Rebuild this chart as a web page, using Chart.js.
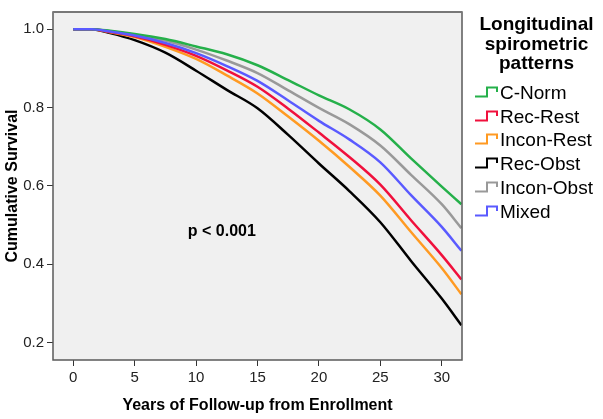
<!DOCTYPE html>
<html>
<head>
<meta charset="utf-8">
<script src="https://cdn.jsdelivr.net/npm/chart.js@4.4.1/dist/chart.umd.min.js"></script>
<style>
    html, body { margin: 0; padding: 0; background: #fff; }
    #wrap { position: relative; width: 603px; height: 419px; font-family: "Liberation Sans", Arial, sans-serif; }
    #survChart { position: absolute; left: 0; top: 0; }
    #legend { position: absolute; left: 470px; top: 0; width: 133px; color: #000; }
    #legend .ttl { position: absolute; left: 0; top: 14px; width: 133px; text-align: center; font-weight: bold; font-size: 19px; line-height: 19.5px; }
    #legend .row { position: absolute; left: 0; width: 133px; height: 24px; font-size: 19px; line-height: 24px; white-space: nowrap; }
    #legend .row svg { position: absolute; left: 4px; top: 5px; }
    #legend .row span { position: absolute; left: 30px; top: 0; }
</style>
</head>
<body>
<div id="wrap">
    <canvas id="survChart" width="603" height="419"></canvas>
    <div id="legend"></div>
</div>
<script>
// Kaplan-Meier curves
const years = [0, 1.5, 3, 5, 7.5, 10, 12.5, 15, 17.5, 20, 22.5, 25, 27.5, 30, 31.6];
const cNorm     = [1, 1, 0.996, 0.988, 0.975, 0.956, 0.936, 0.908, 0.870, 0.831, 0.795, 0.744, 0.670, 0.598, 0.553];
const recRest   = [1, 1, 0.993, 0.982, 0.960, 0.932, 0.895, 0.853, 0.797, 0.736, 0.673, 0.603, 0.512, 0.423, 0.361];
const inconRest = [1, 1, 0.992, 0.980, 0.955, 0.924, 0.882, 0.836, 0.777, 0.715, 0.648, 0.575, 0.482, 0.390, 0.323];
const recObst   = [1, 1, 0.990, 0.972, 0.940, 0.894, 0.845, 0.798, 0.730, 0.657, 0.586, 0.507, 0.408, 0.312, 0.244];
const inconObst = [1, 1, 0.995, 0.986, 0.971, 0.948, 0.920, 0.888, 0.844, 0.799, 0.757, 0.703, 0.628, 0.553, 0.492];
const mixed     = [1, 1, 0.994, 0.984, 0.965, 0.939, 0.906, 0.868, 0.818, 0.766, 0.718, 0.660, 0.576, 0.495, 0.434];

const seriesNames  = ['C-Norm', 'Rec-Rest', 'Incon-Rest', 'Rec-Obst', 'Incon-Obst', 'Mixed'];
const seriesColors = ['#25b04a', '#f0103c', '#ff9a22', '#000000', '#999999', '#5a5aff'];
const seriesData   = [cNorm, recRest, inconRest, recObst, inconObst, mixed];

const xTicks = [0, 5, 10, 15, 20, 25, 30];
const yTicks = [0.2, 0.4, 0.6, 0.8, 1.0];

const FONT = '"Liberation Sans", Arial, sans-serif';

// fond gris + cadre + texte p
const plotFrame = {
    id: 'plotFrame',
    beforeDraw(chart) {
        const { ctx, chartArea: a } = chart;
        ctx.save();
        ctx.fillStyle = '#f0f0f0';
        ctx.fillRect(a.left, a.top, a.right - a.left, a.bottom - a.top);
        ctx.restore();
    },
    afterDraw(chart) {
        const { ctx, chartArea: a, scales } = chart;
        ctx.save();
        ctx.strokeStyle = '#5a5a5a';
        ctx.lineWidth = 1.5;
        ctx.strokeRect(a.left, a.top, a.right - a.left, a.bottom - a.top);
        // bord haut un peu plus épais, comme SPSS
        ctx.strokeStyle = '#777';
        ctx.lineWidth = 2;
        ctx.beginPath();
        ctx.moveTo(a.left, a.top);
        ctx.lineTo(a.right, a.top);
        ctx.stroke();
        ctx.fillStyle = '#000';
        ctx.font = 'bold 16px ' + FONT;
        ctx.textAlign = 'center';
        ctx.textBaseline = 'middle';
        ctx.fillText('p < 0.001', scales.x.getPixelForValue(12.1), scales.y.getPixelForValue(0.482));
        ctx.restore();
    }
};

const datasets = seriesNames.map((name, i) => ({
    label: name,
    data: years.map((x, j) => ({ x: x, y: seriesData[i][j] })),
    borderColor: seriesColors[i],
    backgroundColor: seriesColors[i],
    borderWidth: 2.5,
    pointRadius: 0,
    fill: false,
    cubicInterpolationMode: 'monotone',
    order: name === 'Mixed' ? 0 : i + 1
}));

new Chart(document.getElementById('survChart'), {
    type: 'line',
    data: { datasets: datasets },
    plugins: [plotFrame],
    options: {
        responsive: false,
        animation: false,
        layout: { padding: { top: 5, right: 141, left: 0, bottom: 0 } },
        plugins: { legend: { display: false }, tooltip: { enabled: false } },
        scales: {
            x: {
                type: 'linear', min: -1.65, max: 31.65,
                afterBuildTicks: s => { s.ticks = xTicks.map(v => ({ value: v })); },
                afterFit: s => { s.height = 59; },
                border: { display: false },
                grid: { drawOnChartArea: false, drawTicks: true, tickLength: 6, color: '#333' },
                ticks: { color: '#222', padding: 3, maxRotation: 0, font: { size: 15, family: FONT }, callback: v => String(v) },
                title: { display: true, text: 'Years of Follow-up from Enrollment', color: '#000',
                         font: { size: 16, weight: 'bold', family: FONT }, padding: { top: 0, bottom: 4 } }
            },
            y: {
                type: 'linear', min: 0.155, max: 1.044,
                afterBuildTicks: s => { s.ticks = yTicks.map(v => ({ value: v })); },
                afterFit: s => { s.width = 53; },
                border: { display: false },
                grid: { drawOnChartArea: false, drawTicks: true, tickLength: 6, color: '#333' },
                ticks: { color: '#222', padding: 3, font: { size: 15, family: FONT }, callback: v => v.toFixed(1) },
                title: { display: true, text: 'Cumulative Survival', color: '#000',
                         font: { size: 16, weight: 'bold', family: FONT }, padding: { top: 3, bottom: 0 } }
            }
        }
    }
});

// légende HTML avec icône en escalier
const legend = document.getElementById('legend');
let html = '<div class="ttl">Longitudinal<br>spirometric<br>patterns</div>';
seriesNames.forEach((name, i) => {
    const top = 80.8 + i * 23.8;
    html += `<div class="row" style="top:${top}px">` +
        `<svg width="26" height="12"><polyline points="1,10.5 13,10.5 13,1.5 23,1.5 23,6" fill="none" stroke="${seriesColors[i]}" stroke-width="2"/></svg>` +
        `<span>${name}</span></div>`;
});
legend.innerHTML = html;
</script>
</body>
</html>
